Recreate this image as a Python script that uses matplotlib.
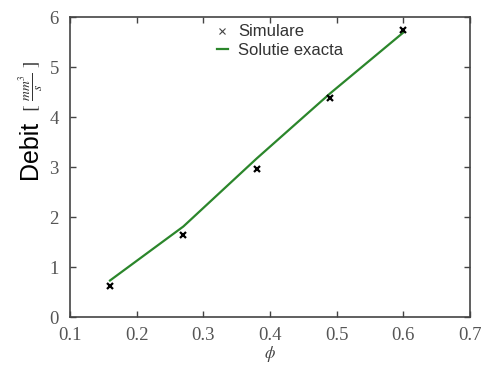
import matplotlib
matplotlib.use("Agg")
import matplotlib.pyplot as plt

plt.rcParams["mathtext.fontset"] = "stix"

# date
phi = [0.16, 0.27, 0.38, 0.49, 0.60]
debit_sim = [0.62, 1.65, 2.96, 4.38, 5.75]
debit_exact = [0.73, 1.81, 3.17, 4.47, 5.69]

xticks = [0.1, 0.2, 0.3, 0.4, 0.5, 0.6, 0.7]
yticks = [0, 1, 2, 3, 4, 5, 6]

fig = plt.figure(figsize=(4.83, 3.65), dpi=100)
ax = fig.add_axes([70 / 483, 1 - 317 / 365, 400 / 483, 300 / 365])

ax.plot(phi, debit_exact, color="#2b862b", linewidth=1.6, label="Solutie exacta")
ax.plot(phi, debit_sim, linestyle="none", marker="x", color="black",
        markersize=5, markeredgewidth=1.6, label="Simulare")

ax.set_xlim(0.1, 0.7)
ax.set_ylim(0, 6)
ax.set_xticks(xticks)
ax.set_yticks(yticks)
ax.set_xticklabels([f"{v:g}" for v in xticks], family="Liberation Serif",
                   fontsize=13.5, color="#555555")
ax.set_yticklabels([str(v) for v in yticks], family="Liberation Serif",
                   fontsize=13.5, color="#555555")
ax.tick_params(direction="in", top=True, right=True, length=4, width=1,
               color="#444444")
ax.tick_params(axis="x", pad=7)
ax.tick_params(axis="y", pad=8)
for s in ax.spines.values():
    s.set_color("#444444")
    s.set_linewidth(1.2)

ax.set_xlabel(r"$\phi$", fontsize=12, color="#444444", labelpad=0)

# eticheta axei y: "Debit" mare, unitatea mai mica
fig.text(30 / 483, 1 - 150 / 365, "Debit", rotation=90, fontsize=18,
         family="Liberation Sans", ha="center", va="center")
fig.text(31 / 483, 1 - 86 / 365, r"$[\ \frac{mm^3}{s}\ ]$", rotation=90,
         fontsize=14, ha="center", va="center", color="#333333")

handles, labels = ax.get_legend_handles_labels()
leg = ax.legend(handles[::-1], labels[::-1], loc="upper center",
                bbox_to_anchor=(0.525, 1.025), frameon=False,
                prop={"family": "Liberation Sans", "size": 12},
                handlelength=0.7, handletextpad=0.6, labelspacing=0.2)
leg.legend_handles[0].set_markeredgewidth(0.8)
leg.legend_handles[0].set_markersize(4)
leg.legend_handles[0].set_color("#444444")
for t in leg.get_texts():
    t.set_color("#333333")

fig.savefig("out.png", dpi=100)
